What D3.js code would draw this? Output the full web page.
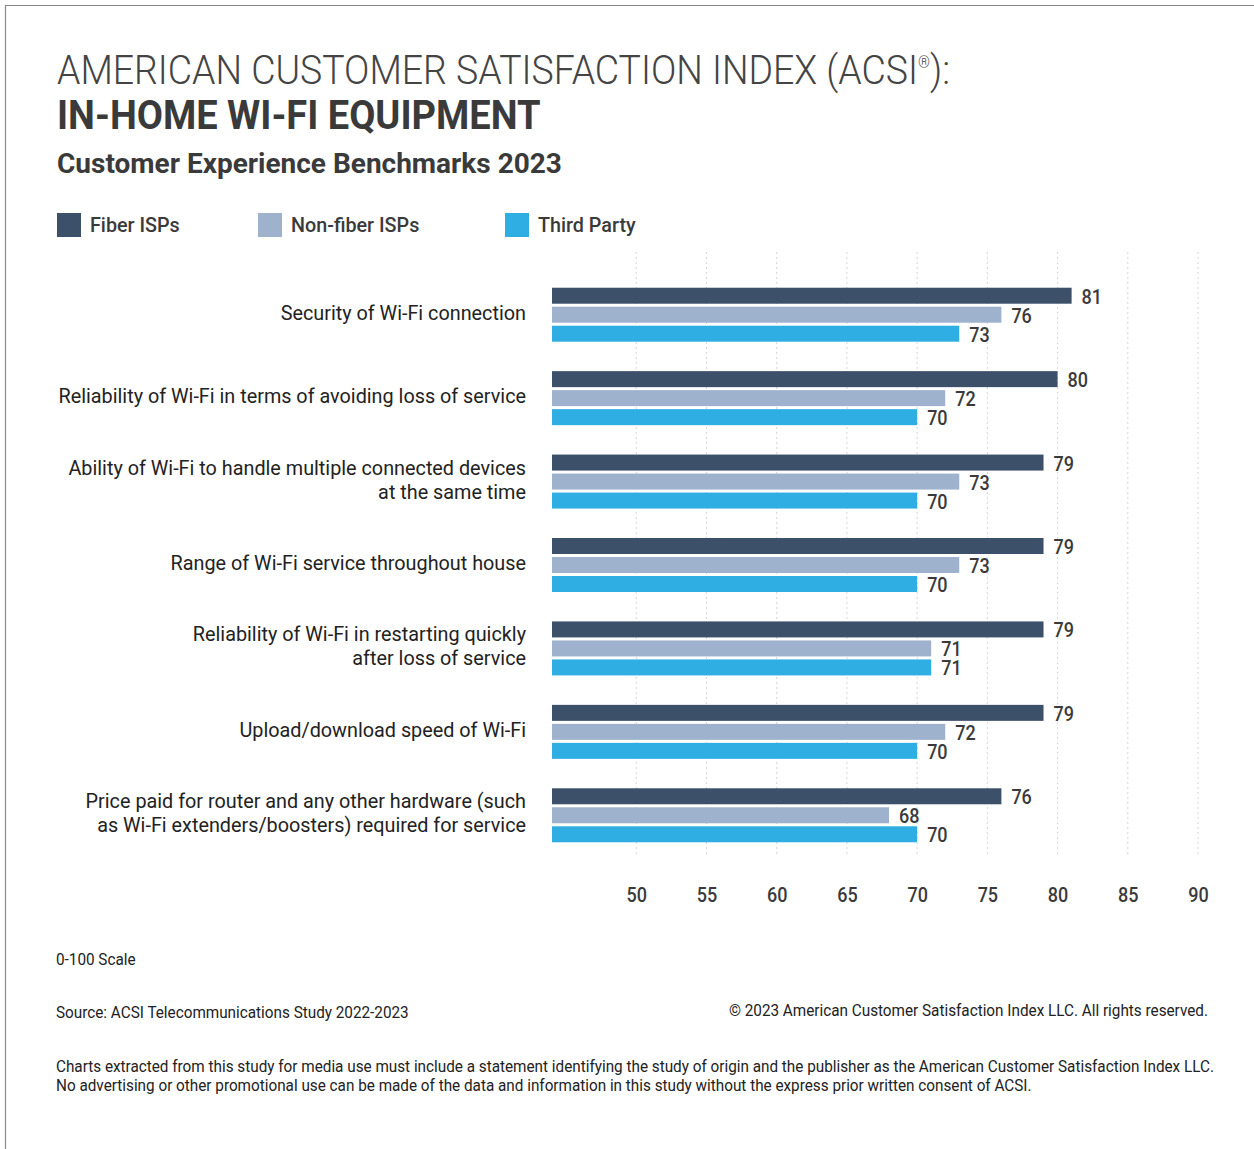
<!DOCTYPE html>
<meta charset="utf-8">
<title>ACSI In-Home Wi-Fi Equipment</title>
<style>
body { margin: 0; background: #fff; }
svg { display: block; font-family: Roboto, "Noto Sans", sans-serif; }
</style>
<body></body>
<script src="https://cdn.jsdelivr.net/npm/d3@7"></script>
<script>
var categories = [
  ['Security of Wi-Fi connection'],
  ['Reliability of Wi-Fi in terms of avoiding loss of service'],
  ['Ability of Wi-Fi to handle multiple connected devices', 'at the same time'],
  ['Range of Wi-Fi service throughout house'],
  ['Reliability of Wi-Fi in restarting quickly', 'after loss of service'],
  ['Upload/download speed of Wi-Fi'],
  ['Price paid for router and any other hardware (such', 'as Wi-Fi extenders/boosters) required for service']
];
var seriesNames = ['Fiber ISPs', 'Non-fiber ISPs', 'Third Party'];
var fiber    = [81, 80, 79, 79, 79, 79, 76];
var nonFiber = [76, 72, 73, 73, 71, 72, 68];
var third    = [73, 70, 70, 70, 71, 70, 70];
var tickValues = [50, 55, 60, 65, 70, 75, 80, 85, 90];

var colors = ['#3c5069', '#9fb2cd', '#2faee3'];
var textColor = '#3a3a3a';

var width = 1254, height = 1149;

var svg = d3.select('body').append('svg')
  .attr('width', width)
  .attr('height', height);

// frame (top + left rule)
svg.append('path')
  .attr('d', 'M5.5,1149 L5.5,5.5 L1254,5.5')
  .attr('fill', 'none')
  .attr('stroke', '#8a8a8a')
  .attr('stroke-width', 1.2);

// condense helper: squeeze text horizontally by factor k
function condense(sel, k) {
  sel.each(function() {
    var w = this.getComputedTextLength();
    this.setAttribute('textLength', w * k);
    this.setAttribute('lengthAdjust', 'spacingAndGlyphs');
  });
}

// titles
var t1 = svg.append('text').attr('x', 57).attr('y', 84)
  .attr('font-size', 40).attr('font-weight', 300).attr('fill', '#444');
t1.append('tspan').text('AMERICAN CUSTOMER SATISFACTION INDEX (ACSI');
t1.append('tspan').text('®').attr('font-size', 16).attr('dy', -16);
t1.append('tspan').text('):').attr('dy', 16);
t1.attr('textLength', 893).attr('lengthAdjust', 'spacingAndGlyphs');

svg.append('text').attr('x', 57).attr('y', 129)
  .attr('font-size', 40).attr('font-weight', 700).attr('fill', '#3a3a3a')
  .text('IN-HOME WI-FI EQUIPMENT')
  .call(condense, 0.95);

svg.append('text').attr('x', 57).attr('y', 173)
  .attr('font-size', 28).attr('font-weight', 700).attr('fill', '#3a3a3a')
  .text('Customer Experience Benchmarks 2023')
  .call(condense, 1.0);

// legend
var legendX = [57, 258, 505];
var legend = svg.selectAll('.legend').data(seriesNames).enter().append('g')
  .attr('transform', function(d, i) { return 'translate(' + legendX[i] + ',213)'; });
legend.append('rect').attr('width', 24).attr('height', 24)
  .attr('fill', function(d, i) { return colors[i]; });
legend.append('text').attr('x', 33).attr('y', 19)
  .attr('font-size', 21).attr('font-weight', 500).attr('fill', textColor)
  .text(function(d) { return d; })
  .call(condense, 0.94);

// scales
var x = d3.scaleLinear().domain([44, 90]).range([552, 1198]);
var y = d3.scaleBand().domain(d3.range(categories.length)).range([273, 857]);
var ySeries = d3.scaleBand().domain(d3.range(3)).range([-27, 27]).paddingInner(0.158);

// gridlines
svg.append('g').selectAll('line').data(tickValues).enter().append('line')
  .attr('x1', function(d) { return x(d); })
  .attr('x2', function(d) { return x(d); })
  .attr('y1', 252).attr('y2', 856)
  .attr('stroke', '#d6d6d6')
  .attr('stroke-dasharray', '2,3');

// axis labels
var axis = svg.append('g')
  .attr('transform', 'translate(0,885)')
  .call(d3.axisBottom(x).tickValues(tickValues).tickSize(0).tickFormat(d3.format('d')));
axis.select('.domain').remove();
axis.selectAll('text')
  .attr('font-family', 'Roboto, sans-serif')
  .attr('font-size', 20).attr('font-weight', 500).attr('fill', textColor)
  .call(condense, 0.9);

// data table
var rows = categories.map(function(c, i) {
  return { lines: c, values: [fiber[i], nonFiber[i], third[i]] };
});

var groups = svg.selectAll('.group').data(rows).enter().append('g')
  .attr('transform', function(d, i) { return 'translate(0,' + (y(i) + y.bandwidth() / 2) + ')'; });

// category labels
groups.each(function(d) {
  var g = d3.select(this);
  var n = d.lines.length;
  d.lines.forEach(function(line, j) {
    g.append('text')
      .attr('x', 526)
      .attr('y', (j - (n - 1) / 2) * 24 - 2)
      .attr('dy', '0.35em')
      .attr('text-anchor', 'end')
      .attr('font-size', 20).attr('fill', '#222')
      .text(line)
      .call(condense, 0.99);
  });
});

// bars
groups.selectAll('rect').data(function(d) { return d.values; }).enter().append('rect')
  .attr('x', x(44))
  .attr('y', function(d, i) { return ySeries(i); })
  .attr('width', function(d) { return x(d) - x(44); })
  .attr('height', ySeries.bandwidth())
  .attr('fill', function(d, i) { return colors[i]; });

// value labels
groups.selectAll('.val').data(function(d) { return d.values; }).enter().append('text')
  .attr('x', function(d) { return x(d) + 10; })
  .attr('y', function(d, i) { return ySeries(i) + ySeries.bandwidth() / 2 + 1; })
  .attr('dy', '0.35em')
  .attr('font-size', 20).attr('font-weight', 500).attr('fill', textColor)
  .text(function(d) { return d; })
  .call(condense, 0.9);

// footer
var foot = [
  { t: '0-100 Scale', x: 56, y: 965, a: 'start' },
  { t: 'Source: ACSI Telecommunications Study 2022-2023', x: 56, y: 1018, a: 'start' },
  { t: '\u00A9 2023 American Customer Satisfaction Index LLC. All rights reserved.', x: 1208, y: 1016, a: 'end' },
  { t: 'Charts extracted from this study for media use must include a statement identifying the study of origin and the publisher as the American Customer Satisfaction Index LLC.', x: 56, y: 1072, a: 'start' },
  { t: 'No advertising or other promotional use can be made of the data and information in this study without the express prior written consent of ACSI.', x: 56, y: 1091, a: 'start' }
];
svg.selectAll('.foot').data(foot).enter().append('text')
  .attr('x', function(d) { return d.x; })
  .attr('y', function(d) { return d.y; })
  .attr('text-anchor', function(d) { return d.a; })
  .attr('font-size', 16).attr('fill', '#222')
  .text(function(d) { return d.t; })
  .call(condense, 0.955);
</script>
